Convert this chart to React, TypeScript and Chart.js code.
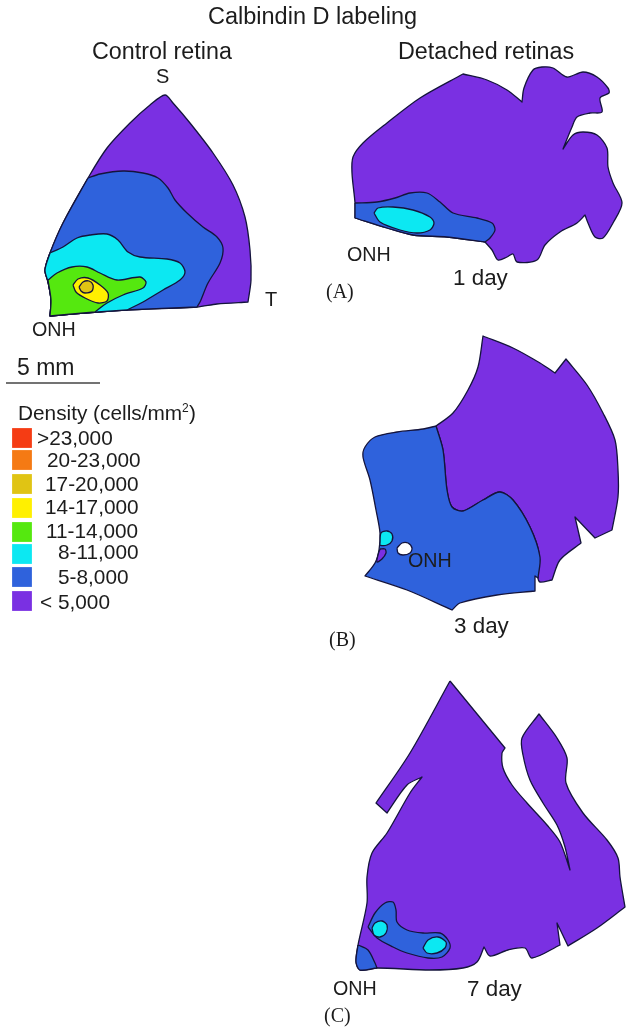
import React, { useEffect, useRef } from "react";
import { Chart, registerables } from "chart.js";

Chart.register(...registerables);

type P = [number, number];

const PURPLE = "#7a30e2";
const BLUE = "#2f62dc";
const CYAN = "#0ce8f2";
const GREEN = "#55e80f";
const YELLOW = "#fff000";
const GOLD = "#e0c414";
const WHITE = "#ffffff";

// A point listed twice is a sharp corner of the outline.
// Control retina
const controlOuter: P[] = [[50,316],[51,300],[48,282],[45,270],[50,253],[63,223],[88,178],[107,148],[130,123],[150,105],[165,95],[173,103],[190,123],[213,153],[233,185],[245,217],[250,250],[251,280],[248,302],[248,302],[217,304],[197,307],[127,310],[98,312],[50,316]];
const controlBlue: P[] = [[88,178],[88,178],[100,174],[123,171],[143,173],[158,178],[168,188],[175,200],[187,213],[203,227],[217,237],[223,248],[220,263],[208,283],[200,302],[197,307],[197,307],[127,310],[98,312],[50,316],[50,316],[51,300],[48,282],[45,270],[50,253],[63,223],[88,178]];
const controlCyan: P[] = [[50,253],[50,253],[63,247],[77,238],[90,235],[107,234],[118,240],[128,252],[140,257],[167,259],[180,263],[185,272],[180,280],[163,290],[143,302],[127,310],[127,310],[98,312],[50,316],[50,316],[51,300],[48,282],[45,270],[50,253]];
const controlGreen: P[] = [[48,280],[48,280],[57,273],[72,267],[87,267],[100,273],[117,280],[140,277],[146,282],[143,288],[123,295],[107,303],[95,312],[95,312],[50,316],[50,316],[51,300],[48,280]];
const controlYellow: P[] = [[73,285],[78,279],[88,278],[100,285],[108,293],[107,301],[98,303],[85,298],[76,292],[73,285]];
const controlGold: P[] = [[79,287],[83,282],[89,281],[93,285],[92,291],[85,293],[81,291],[79,287]];

// 1 day
const day1Outer: P[] = [[355,218],[355,203],[352,173],[353,157],[363,143],[387,123],[420,98],[463,74],[463,74],[487,80],[507,90],[522,102],[522,102],[524,88],[533,70],[542,67],[553,68],[567,77],[583,72],[597,77],[608,88],[609,93],[600,98],[602,112],[590,113],[577,117],[572,127],[563,149],[563,149],[573,135],[583,132],[597,135],[607,148],[608,167],[613,183],[622,203],[613,223],[603,238],[595,237],[588,223],[585,215],[585,215],[577,223],[560,232],[545,245],[537,260],[517,262],[513,254],[507,257],[498,260],[492,250],[485,242],[485,242],[447,237],[413,235],[387,228],[355,218]];
const day1Blue: P[] = [[355,203],[355,203],[377,202],[395,198],[410,193],[427,193],[440,202],[453,213],[477,218],[492,223],[495,230],[490,238],[485,242],[485,242],[447,237],[413,235],[387,228],[355,218],[355,218],[355,203]];
const day1Cyan: P[] = [[374,213],[378,208],[393,207],[413,210],[430,217],[434,223],[430,230],[417,233],[400,230],[380,222],[374,213]];

// 3 day
const day3Outer: P[] = [[436,426],[453,413],[468,390],[478,367],[483,336],[483,336],[513,348],[540,363],[555,373],[555,373],[566,359],[566,359],[587,385],[603,413],[615,440],[618,470],[618,497],[612,530],[612,530],[595,538],[595,538],[575,517],[575,517],[581,543],[581,543],[560,560],[552,580],[552,580],[540,582],[538,578],[539,553],[530,527],[513,500],[500,492],[483,500],[463,511],[452,507],[447,490],[443,450],[436,426]];
const day3Blue: P[] = [[436,426],[423,429],[397,432],[375,437],[365,447],[363,457],[370,480],[376,510],[380,533],[379,550],[375,563],[365,576],[365,576],[407,590],[452,610],[452,610],[460,603],[497,595],[535,591],[535,591],[535,576],[535,576],[538,578],[538,578],[540,557],[530,527],[513,500],[500,492],[483,500],[463,511],[452,507],[447,490],[443,450],[436,426]];
const day3Cyan: P[] = [[380,543],[381,533],[387,531],[392,534],[392,541],[387,545],[380,545],[380,543]];
const day3Purple: P[] = [[380,549],[385,549],[386,553],[382,559],[377,562],[378,555],[380,549]];
const day3White: P[] = [[397,548],[402,543],[408,543],[412,548],[410,553],[403,555],[398,553],[397,548]];

// 7 day
const day7Outer: P[] = [[450,681],[450,681],[505,748],[505,748],[502,753],[503,768],[512,785],[527,803],[547,825],[560,842],[570,870],[570,870],[565,847],[557,825],[543,803],[530,780],[523,755],[522,738],[539,714],[539,714],[557,738],[567,758],[566,783],[583,813],[607,840],[618,858],[620,877],[625,907],[625,907],[597,928],[568,946],[568,946],[557,923],[557,923],[560,945],[560,945],[532,958],[525,948],[508,950],[490,956],[484,947],[484,947],[477,962],[463,968],[430,970],[377,968],[360,970],[356,962],[358,945],[367,903],[367,877],[372,853],[387,833],[410,793],[422,777],[422,777],[407,785],[387,813],[387,813],[376,803],[376,803],[410,753],[450,681]];
const day7Corner: P[] = [[358,945],[358,945],[368,950],[375,963],[377,968],[377,968],[360,970],[356,962],[358,945]];
const day7Blue: P[] = [[368,927],[375,913],[385,903],[393,902],[396,910],[397,922],[407,930],[423,933],[440,933],[448,940],[450,948],[442,957],[428,958],[407,953],[393,947],[377,938],[368,927]];
const day7CyanA: P[] = [[372,928],[375,923],[382,921],[387,925],[386,933],[380,937],[374,935],[372,928]];
const day7CyanB: P[] = [[423,948],[428,940],[438,937],[446,942],[445,948],[437,953],[427,953],[423,948]];

// Scale bar
const scaleBar: P[] = [[6,383],[100,383]];

// Legend
const legendLabels = [">23,000", "20-23,000", "17-20,000", "14-17,000", "11-14,000", "8-11,000", "5-8,000", "< 5,000"];
const legendColors = ["#f53c14", "#f57a14", "#e0c414", "#fff000", "#55e80f", "#0ce8f2", "#2f62dc", "#7a30e2"];
const legendSwatchX = [22, 22, 22, 22, 22, 22, 22, 22];
const legendSwatchY = [438, 460, 484, 508, 532, 554, 577, 601];
const legendTextX = [37, 47, 45, 45, 46, 58, 58, 40];
const legendTextY = [439.5, 461.5, 485.5, 508.5, 532.5, 553.5, 578.5, 603.5];

// Back-to-front drawing list
const regions: [P[], string][] = [
  [controlOuter, PURPLE], [controlBlue, BLUE], [controlCyan, CYAN], [controlGreen, GREEN], [controlYellow, YELLOW], [controlGold, GOLD],
  [day1Outer, PURPLE], [day1Blue, BLUE], [day1Cyan, CYAN],
  [day3Outer, PURPLE], [day3Blue, BLUE], [day3Cyan, CYAN], [day3Purple, PURPLE], [day3White, WHITE],
  [day7Outer, PURPLE], [day7Corner, BLUE], [day7Blue, BLUE], [day7CyanA, CYAN], [day7CyanB, CYAN],
];

const SANS = '"Liberation Sans"';
const SERIF = '"Liberation Serif"';
type Label = [string, number, number, number, string];
const labels: Label[] = [
  ["Calbindin D labeling", 208, 18, 23.5, SANS],
  ["Control retina", 92, 53, 23.3, SANS],
  ["Detached retinas", 398, 53, 23.3, SANS],
  ["S", 156, 77, 20, SANS],
  ["T", 265, 300, 20, SANS],
  ["ONH", 32, 331, 19.7, SANS],
  ["ONH", 347, 256, 19.7, SANS],
  ["1 day", 453, 279, 22.4, SANS],
  ["(A)", 326, 293, 20, SERIF],
  ["5 mm", 17, 369, 23, SANS],
  ["Density (cells/mm", 18, 414, 20.8, SANS],
  ["2", 182, 409, 12, SANS],
  [")", 189, 414, 20.8, SANS],
  ["ONH", 408, 562, 19.7, SANS],
  ["3 day", 454, 627, 22.4, SANS],
  ["(B)", 329, 641, 20, SERIF],
  ["ONH", 333, 990, 19.7, SANS],
  ["7 day", 467, 990, 22.4, SANS],
  ["(C)", 324, 1017, 20, SERIF],
];

const textPlugin = {
  id: "figureText",
  afterDatasetsDraw(chart: any) {
    const { ctx, scales } = chart;
    ctx.save();
    ctx.fillStyle = "#1c1c1c";
    ctx.textBaseline = "middle";
    ctx.textAlign = "left";
    for (const [t, x, y, size, family] of labels) {
      ctx.font = `${size}px ${family}`;
      ctx.fillText(t, scales.x.getPixelForValue(x), scales.y.getPixelForValue(y));
    }
    ctx.font = `20.8px ${SANS}`;
    legendLabels.forEach((t, i) => {
      ctx.fillText(t, scales.x.getPixelForValue(legendTextX[i]), scales.y.getPixelForValue(legendTextY[i]));
    });
    ctx.restore();
  },
};

const pts = (a: P[]) => a.map(([x, y]) => ({ x, y }));

export default function App() {
  const ref = useRef<HTMLCanvasElement>(null);
  useEffect(() => {
    document.body.style.margin = "0";
    const regionSets = regions.map(([poly, color]) => ({
      type: "scatter" as const,
      data: pts(poly),
      showLine: true,
      fill: "shape",
      tension: 0.3,
      backgroundColor: color,
      borderColor: "#14143c",
      borderWidth: 1.3,
      borderJoinStyle: "round",
      pointRadius: 0,
      clip: false,
    }));
    const chart = new Chart(ref.current!, {
      type: "scatter",
      data: {
        datasets: [
          ...regionSets.reverse(),
          {
            data: pts(scaleBar),
            showLine: true,
            borderColor: "#444444",
            borderWidth: 1.5,
            pointRadius: 0,
          },
          {
            data: legendSwatchX.map((x, i) => ({ x, y: legendSwatchY[i] })),
            pointStyle: "rect",
            pointRadius: 14,
            pointBorderWidth: 0,
            backgroundColor: legendColors,
            pointBackgroundColor: legendColors,
            showLine: false,
          },
        ] as any,
      },
      options: {
        animation: false,
        responsive: false,
        devicePixelRatio: 1,
        layout: { padding: 0, autoPadding: false },
        plugins: { legend: { display: false }, tooltip: { enabled: false } },
        scales: {
          x: { type: "linear", min: 0, max: 629, display: false },
          y: { type: "linear", min: 0, max: 1030, reverse: true, display: false },
        },
      },
      plugins: [textPlugin],
    } as any);
    return () => chart.destroy();
  }, []);
  return <canvas ref={ref} width={629} height={1030} style={{ display: "block" }} />;
}
